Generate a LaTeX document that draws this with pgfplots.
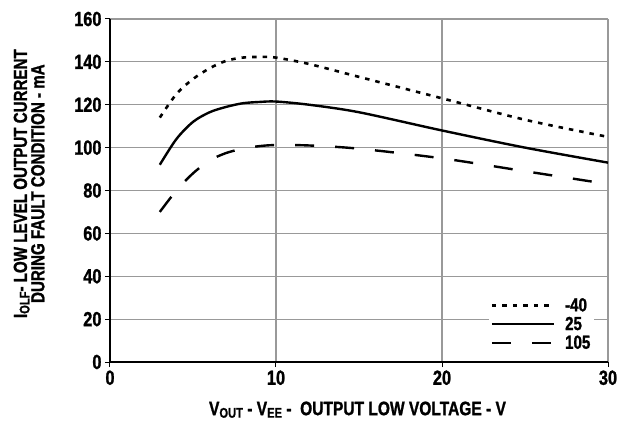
\documentclass[border=0pt]{standalone}
\usepackage{pgfplots}
\pgfplotsset{compat=1.18}
\usepackage{fontspec}
\setmainfont{Liberation Sans}[UprightFont={* Bold}, BoldFont={* Bold}, FakeStretch=0.8, FakeBold=1.2]
\newcommand{\sub}[1]{\raisebox{-2.5bp}{\fontsize{14}{14}\selectfont #1}}
\begin{document}
\begin{tikzpicture}
\begin{axis}[
  name=ax,
  scale only axis, width=498bp, height=343bp,
  xmin=0, xmax=30, ymin=0, ymax=160,
  xtick={0,10,20,30}, ytick={0,20,...,160},
  axis x line=bottom, axis y line=left, axis line style={-, line width=1.3bp},
  grid=major, major grid style={black!40, line width=1.2bp},
  tick style={black, line width=1bp},
  tick align=outside,
  major tick length=5bp,
  /pgf/number format/assume math mode=true,
  ticklabel style={font=\fontsize{20.5}{20.5}\selectfont},
  xlabel={\fontsize{19.5}{19.5}\selectfont V\sub{OUT} - V\sub{EE} -\ \ OUTPUT LOW VOLTAGE - V},
  ylabel={\fontsize{19}{19}\selectfont\begin{tabular}{c}I\sub{OLF}- LOW LEVEL OUTPUT CURRENT\\[-1.5bp] DURING FAULT CONDITION - mA\end{tabular}},
  xlabel style={at={(axis description cs:0.497,-0.155)}, anchor=base},
  ylabel style={at={(axis description cs:-0.12,0.52)}, anchor=south, inner sep=0pt},
  legend style={at={(axis description cs:0.973,0.022)}, anchor=south east, draw=none, fill=white,
    font=\fontsize{19}{19}\selectfont, row sep=0bp, inner sep=2bp,
    /tikz/every odd column/.append style={column sep=8bp}},
  legend cell align=left,
  legend image code/.code={\draw[#1] (0bp,0bp) -- (62bp,0bp);},
]
\addplot[black, line width=2.6bp, dash pattern=on 4.5bp off 6bp, smooth] coordinates {
(3,114) (4,125) (5,132) (6,137) (7,140.5) (8,142) (9,142.3) (10,142) (12,139) (15,133) (20,123) (25,113) (30,105)};
\addlegendentry{-40}
\addplot[black, line width=2.4bp, smooth] coordinates {
(3,92) (4,104) (5,112) (6,116.5) (7,119) (8,120.7) (9,121.3) (10,121.5) (12,120) (15,116.5) (20,108) (25,100) (30,93)};
\addlegendentry{25}
\addplot[black, line width=2.4bp, dash pattern=on 19bp off 21bp, smooth] coordinates {
(3,70) (4,80) (5,88) (6,94) (7,97.5) (8,99.5) (9,100.7) (10,101.2) (12,101) (15,99.5) (20,95) (25,89) (30,83)};
\addlegendentry{105}
\end{axis}
\pgfresetboundingbox
\path ([shift={(-110bp,-59bp)}]ax.south west) rectangle ([shift={(10bp,19bp)}]ax.north east);
\end{tikzpicture}
\end{document}
